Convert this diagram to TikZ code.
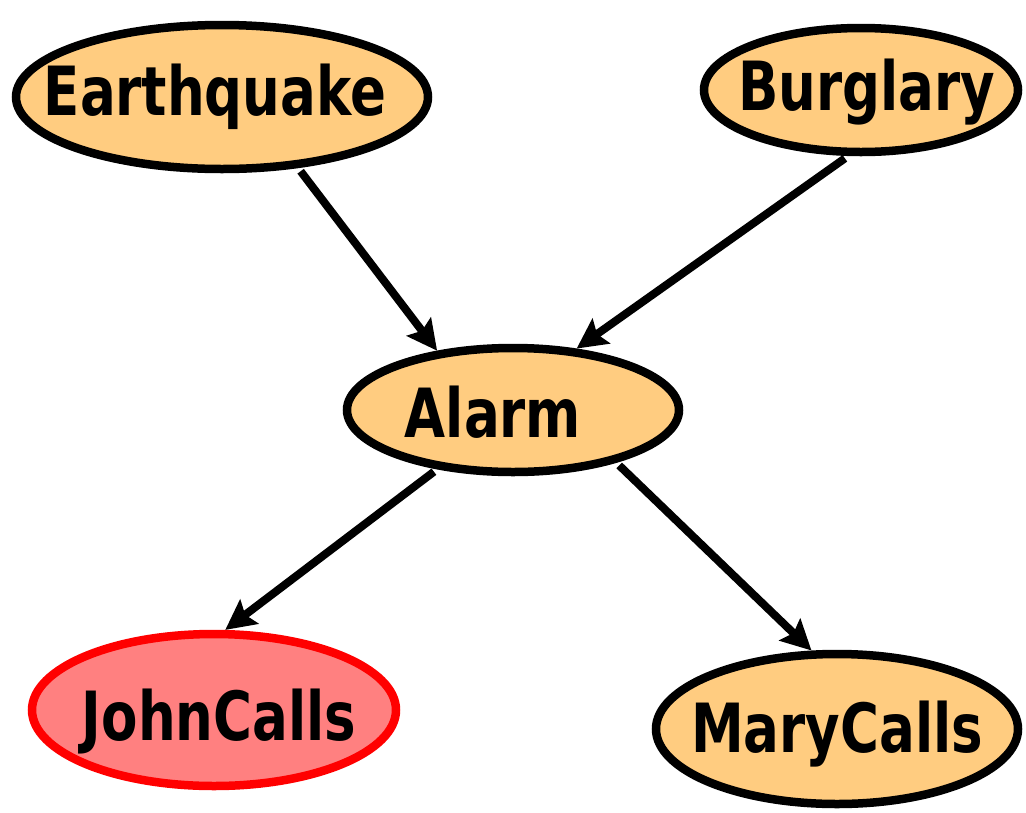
\documentclass[tikz,border=0pt]{standalone}
\usepackage{fontspec}
\setmainfont{DejaVu Sans}
\usetikzlibrary{shapes.geometric,arrows.meta}
\definecolor{nodefill}{HTML}{FFCC80}
\definecolor{johnfill}{HTML}{FF8080}
\definecolor{johnline}{HTML}{FF0000}
\tikzset{
  bnode/.style={ellipse, draw=black, fill=nodefill, line width=8.5pt, inner sep=0pt},
  lab/.style={font=\fontsize{53}{60}\selectfont\bfseries, inner sep=0pt, yscale=1.28},
  edge/.style={line width=8pt, -{Stealth[length=30pt,width=30pt,inset=5pt]}, shorten <=4pt}
}
\begin{document}
\begin{tikzpicture}[x=1pt,y=-1pt]
\useasboundingbox (0,0) rectangle (1026,812);
\node[bnode, minimum width=412pt, minimum height=144pt] (eq) at (222,97) {};
\node[bnode, minimum width=314pt, minimum height=124pt] (bg) at (861,90) {};
\node[bnode, minimum width=332pt, minimum height=124pt] (al) at (513,410) {};
\node[bnode, draw=johnline, fill=johnfill, minimum width=364pt, minimum height=152pt] (jc) at (214,710) {};
\node[bnode, minimum width=362pt, minimum height=150pt] (mc) at (837,729) {};
\node[lab] (teq) at (215,97) {Earthquake};
\node[lab] (tbg) at (867,92) {Burglary};
\node[lab] (tal) at (493,412) {Alarm};
\node[lab] (tjc) at (219,722) {JohnCalls};
\node[lab] (tmc) at (837,734) {MaryCalls};
\draw[edge] (eq.-43) -- (al.142);
\draw[edge] (bg.-101) -- (al.44);
\draw[edge] (al.-142) -- (jc.82);
\draw[edge] (al.-27) -- (mc.108);
\end{tikzpicture}
\end{document}
